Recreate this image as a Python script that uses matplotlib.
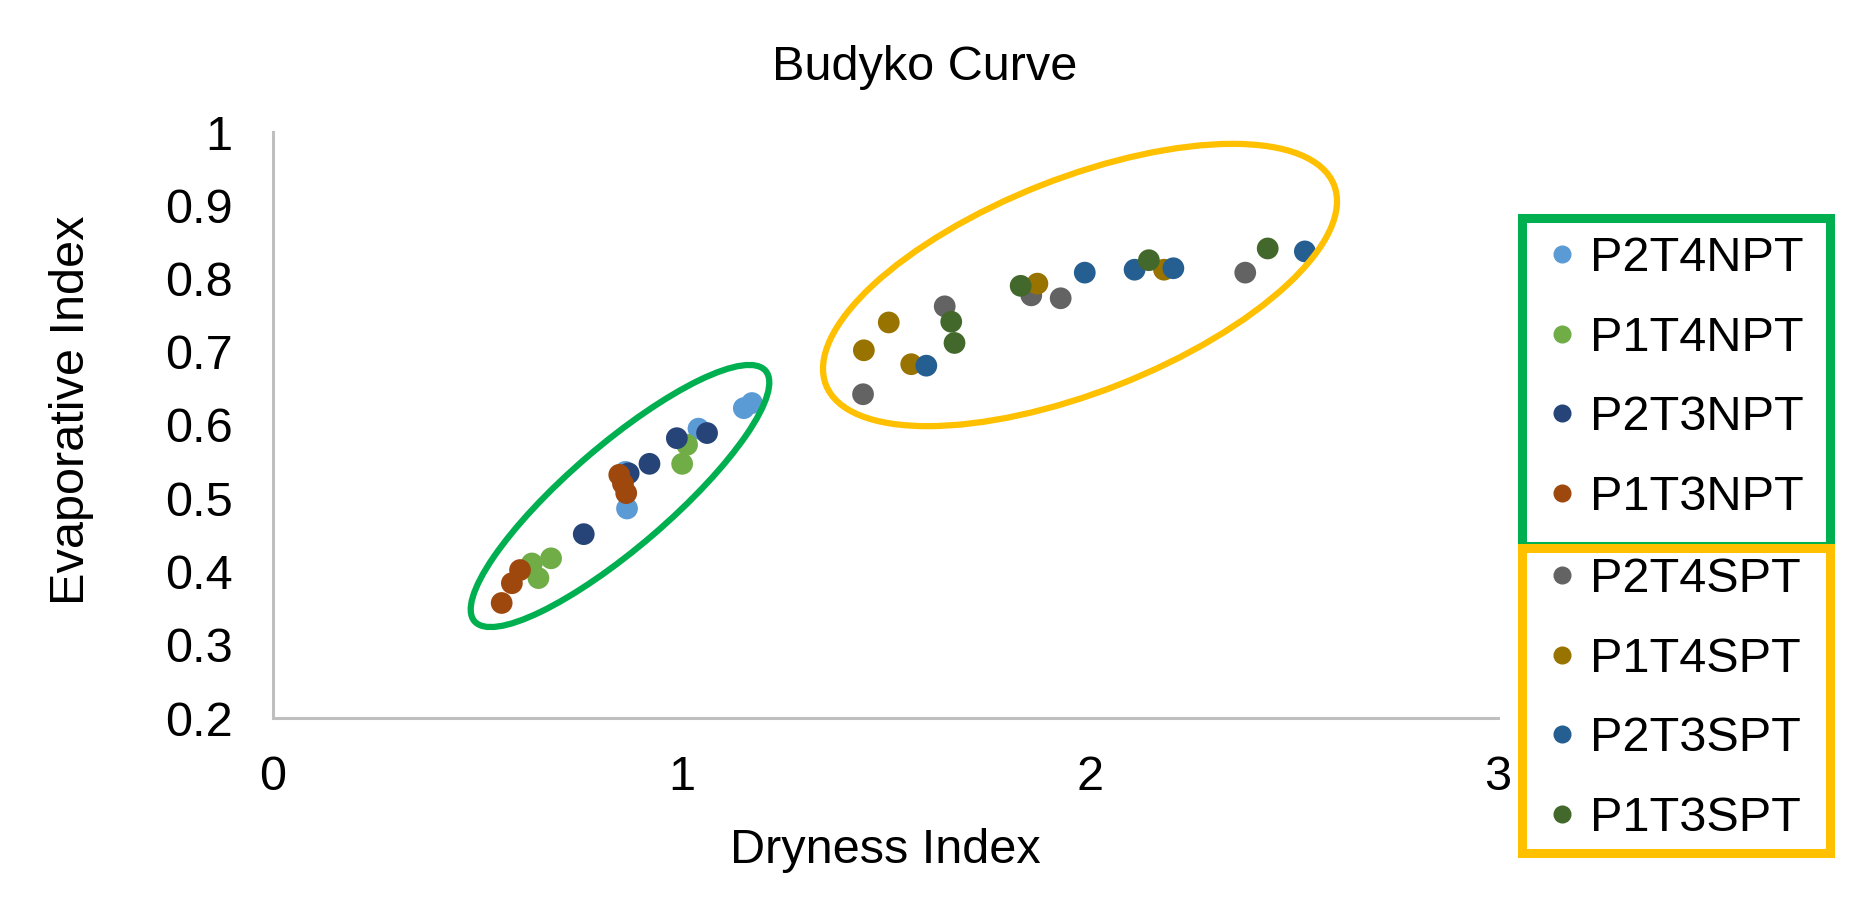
import matplotlib
matplotlib.use('Agg')
import matplotlib.pyplot as plt
from matplotlib.patches import Ellipse, Rectangle
from matplotlib.lines import Line2D
from matplotlib.transforms import Affine2D

plt.rcParams['font.family'] = ['Liberation Sans', 'DejaVu Sans']

W, H = 1875, 908   # output size in pixels

# ---- Data ---- #
series_names = ['P2T4NPT', 'P1T4NPT', 'P2T3NPT', 'P1T3NPT',
                'P2T4SPT', 'P1T4SPT', 'P2T3SPT', 'P1T3SPT']
series_colors = ['#5B9BD5', '#70AD47', '#264478', '#9E480E',
                 '#636363', '#997300', '#255E91', '#43682B']

p2t4npt_x = [1.153, 1.173, 1.042, 0.867, 0.863]
p2t4npt_y = [0.623, 0.630, 0.595, 0.486, 0.536]
p1t4npt_x = [1.014, 1.002, 0.681, 0.650, 0.634]
p1t4npt_y = [0.573, 0.547, 0.418, 0.391, 0.411]
p2t3npt_x = [0.989, 1.063, 0.922, 0.761, 0.871]
p2t3npt_y = [0.582, 0.589, 0.547, 0.451, 0.534]
p1t3npt_x = [0.848, 0.857, 0.865, 0.605, 0.585, 0.560]
p1t3npt_y = [0.532, 0.520, 0.507, 0.402, 0.384, 0.357]

p2t4spt_x = [1.445, 1.645, 1.857, 1.929, 2.381]
p2t4spt_y = [0.642, 0.762, 0.777, 0.773, 0.808]
p1t4spt_x = [1.447, 1.508, 1.563, 1.872, 2.182]
p1t4spt_y = [0.702, 0.740, 0.683, 0.793, 0.812]
p2t3spt_x = [1.600, 1.988, 2.110, 2.205, 2.527]
p2t3spt_y = [0.681, 0.808, 0.812, 0.814, 0.837]
p1t3spt_x = [1.661, 1.669, 1.831, 2.145, 2.436]
p1t3spt_y = [0.741, 0.712, 0.790, 0.825, 0.841]

xs = [p2t4npt_x, p1t4npt_x, p2t3npt_x, p1t3npt_x,
      p2t4spt_x, p1t4spt_x, p2t3spt_x, p1t3spt_x]
ys = [p2t4npt_y, p1t4npt_y, p2t3npt_y, p1t3npt_y,
      p2t4spt_y, p1t4spt_y, p2t3spt_y, p1t3spt_y]

x_ticks = [0, 1, 2, 3]
y_ticks = [0.2, 0.3, 0.4, 0.5, 0.6, 0.7, 0.8, 0.9, 1.0]
y_ticklabels = ['0.2', '0.3', '0.4', '0.5', '0.6', '0.7', '0.8', '0.9', '1']

# ---- Figure ---- #
fig = plt.figure(figsize=(W / 100, H / 100), dpi=100)
ax = fig.add_axes([273 / W, 1 - 718 / H, (1498 - 273) / W, (718 - 132) / H])

for x, y, c in zip(xs, ys, series_colors):
    ax.scatter(x, y, s=245, color=c, edgecolors='none', zorder=3)

ax.set_xlim(0, 3)
ax.set_ylim(0.2, 1.0)
ax.set_xticks(x_ticks)
ax.set_yticks(y_ticks)
ax.set_yticklabels(y_ticklabels)
ax.tick_params(length=0, labelsize=35, colors='black')
ax.tick_params(axis='x', pad=27)
ax.tick_params(axis='y', pad=29)
for side in ('top', 'right'):
    ax.spines[side].set_visible(False)
for side in ('left', 'bottom'):
    ax.spines[side].set_color('#BFBFBF')
    ax.spines[side].set_linewidth(2.2)

fig.text(925 / W, 1 - 80 / H, 'Budyko Curve', fontsize=35,
         ha='center', va='baseline')
fig.text(885 / W, 1 - 863 / H, 'Dryness Index', fontsize=35,
         ha='center', va='baseline')
fig.text(72 / W, 1 - 410 / H, 'Evaporative Index', fontsize=35,
         ha='center', va='center', rotation=90)

# pixel coordinates (origin bottom-left) for the hand-drawn annotations
px = Affine2D().scale(1 / W, 1 / H) + fig.transFigure

fig.patches.append(Ellipse((620, H - 496), 384, 102, angle=40.7,
                           fill=False, edgecolor='#00B050', linewidth=4.5,
                           transform=px, figure=fig))
fig.patches.append(Ellipse((1080, H - 285), 546, 214, angle=21.5,
                           fill=False, edgecolor='#FFC000', linewidth=4.5,
                           transform=px, figure=fig))

# legend frames
fig.patches.append(Rectangle((1522, H - 546), 308, 328, fill=False,
                             edgecolor='#00B050', linewidth=6.5,
                             transform=px, figure=fig))
fig.patches.append(Rectangle((1522, H - 853), 308, 305, fill=False,
                             edgecolor='#FFC000', linewidth=6.5,
                             transform=px, figure=fig))

handles = [Line2D([], [], marker='o', linestyle='', color=c, markersize=12)
           for c in series_colors]

leg_kw = dict(loc='upper left', frameon=False, fontsize=35,
              labelspacing=0.71, handlelength=0.7, handletextpad=0.22,
              borderpad=0, borderaxespad=0)
leg1 = fig.legend(handles[:4], series_names[:4],
                  bbox_to_anchor=(1545 / W, 1 - 236 / H), **leg_kw)
leg2 = fig.legend(handles[4:], series_names[4:],
                  bbox_to_anchor=(1545 / W, 1 - 557 / H), **leg_kw)

fig.savefig('out.png', dpi=100, facecolor='white')
